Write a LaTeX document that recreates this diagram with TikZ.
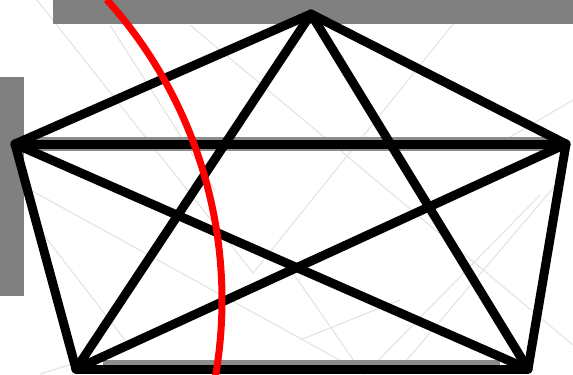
\documentclass[tikz,border=0pt]{standalone}
\begin{document}
\begin{tikzpicture}[
  x=0.75pt, y=-0.75pt,
  faint/.style={line width=0.9pt, black!10},
  bar/.style={fill=black!50, draw=none},
  hilite/.style={line width=11pt, black!45},
  edge/.style={line width=6.75pt, black, line cap=round},
  cut/.style={line width=5.25pt, red},
]
\useasboundingbox (0,0) rectangle (573,374);

% Faint background lines
\draw[faint] (37,0) -- (253,273) -- (458,18);
\draw[faint] (110,25) -- (215,190);
\draw[faint] (190,25) -- (573,345);
\draw[faint] (25,187) -- (365,374);
\draw[faint] (40,230) -- (125,340);
\draw[faint] (40,374) -- (85,360);
\draw[faint] (573,100) -- (505,140);
\draw[faint] (560,180) -- (395,374);
\draw[faint] (540,195) -- (365,374);
\draw[faint] (293,273) -- (363,374);
\draw[faint] (300,340) -- (400,300);

% Gray bars
\fill[bar] (53,0) rectangle (573,24);
\fill[bar] (0,77) rectangle (24,296);

% Vertices
\coordinate (top) at (311,14);
\coordinate (left) at (15,144);
\coordinate (right) at (566,144);
\coordinate (botl) at (76,369);
\coordinate (botr) at (528,369);

% Highlighted edges
\coordinate (hl1) at (35,144);
\coordinate (hl2) at (553,144);
\coordinate (hb1) at (103,367);
\coordinate (hb2) at (500,367);
\draw[hilite] (hl1) -- (hl2);
\draw[hilite] (hb1) -- (hb2);

% Outer pentagon
\draw[edge] (top) -- (right);
\draw[edge] (right) -- (botr);
\draw[edge] (botr) -- (botl);
\draw[edge] (botl) -- (left);
\draw[edge] (left) -- (top);

% Diagonals
\draw[edge] (top) -- (botl);
\draw[edge] (top) -- (botr);
\draw[edge] (left) -- (right);
\draw[edge] (left) -- (botr);
\draw[edge] (right) -- (botl);

% Red arc
\draw[cut] (-227,300) ++(-42:449) arc[start angle=-42, end angle=11, radius=449];

\end{tikzpicture}
\end{document}
